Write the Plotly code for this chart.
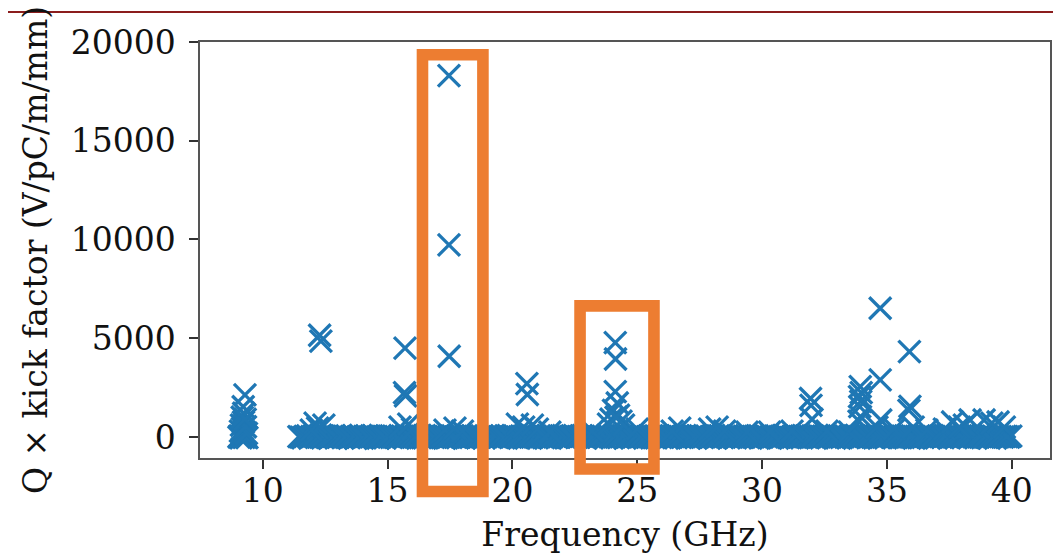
import plotly.graph_objects as go

# ---------------- data ----------------
# low-frequency cluster near 9 GHz
cluster_freq = [9.05, 9.09, 9.13, 9.17, 9.21, 9.25, 9.29, 9.33, 9.37, 9.11,
                9.19, 9.27, 9.35, 9.15, 9.23, 9.31]
cluster_kick = [0, 60, -40, 30, 90, -20, 50, 10, -30, 300,
                420, 250, 180, 600, 750, 520]

# dense band of modes with small kick factors
band_freq = [11.45, 11.61, 11.80, 11.96, 12.15, 12.32, 12.49, 12.68, 12.84, 13.03,
             13.21, 13.38, 13.57, 13.73, 13.92, 14.09, 14.27, 14.46, 14.62, 14.81,
             14.97, 15.16, 15.34, 15.50, 15.69, 15.87, 16.03, 16.22, 16.40, 16.56,
             16.75, 16.93, 17.09, 17.28, 17.46, 17.62, 17.81, 17.99, 18.15, 18.34,
             18.52, 18.68, 18.87, 19.05, 19.21, 19.40, 19.58, 19.74, 19.93, 20.11,
             20.27, 20.46, 20.64, 20.80, 20.99, 21.17, 21.33, 21.52, 21.70, 21.86,
             22.05, 22.23, 22.39, 22.58, 22.76, 22.92, 23.11, 23.29, 23.45, 23.64,
             23.82, 23.98, 24.17, 24.35, 24.51, 24.70, 24.88, 25.04, 25.23, 25.41,
             25.57, 25.76, 25.94, 26.10, 26.29, 26.47, 26.63, 26.82, 27.00, 27.16,
             27.35, 27.53, 27.69, 27.88, 28.06, 28.22, 28.41, 28.59, 28.75, 28.94,
             29.12, 29.28, 29.47, 29.65, 29.81, 30.00, 30.18, 30.34, 30.53, 30.71,
             30.87, 31.06, 31.24, 31.40, 31.59, 31.77, 31.93, 32.12, 32.30, 32.46,
             32.65, 32.83, 32.99, 33.18, 33.36, 33.52, 33.71, 33.89, 34.05, 34.24,
             34.42, 34.58, 34.77, 34.95, 35.11, 35.30, 35.48, 35.64, 35.83, 36.01,
             36.17, 36.36, 36.54, 36.70, 36.89, 37.07, 37.23, 37.42, 37.60, 37.76,
             37.95, 38.13, 38.29, 38.48, 38.66, 38.82, 39.01, 39.19, 39.35, 39.54,
             39.72, 39.88, 39.96]
band_kick = [20, -40, 60, 10, -20, 90, 30, -60, 40, 0,
             -30, 50, 10, -70, 80, 20, -10, 40, -50, 30,
             60, -20, 10, 70, -40, 30, 0, 50, -30, 20,
             40, -10, 80, -50, 20, 60, -30, 10, 50, -20,
             30, 0, -40, 70, 10, -20, 40, 60, -10, 20,
             -50, 30, 80, 0, -30, 50, 20, -60, 40, 10,
             70, -20, 30, 0, 60, -40, 20, 50, -10, 30,
             80, -30, 40, 10, -50, 60, 20, -20, 30, 0,
             50, -40, 10, 70, -20, 30, 60, -10, 40, 0,
             -30, 50, 20, -60, 80, 10, -20, 40, 30, -40,
             60, 0, -30, 20, 50, -10, 40, -50, 30, 10,
             70, -20, 0, 40, -40, 60, 20, -10, 50, 30,
             -30, 10, 80, -20, 40, 0, 60, -50, 20, 30,
             -10, 50, 10, -40, 70, 20, -30, 40, 0, 60,
             -20, 30, 50, -60, 10, 40, -10, 20, 70, -30,
             0, 60, -40, 30, 10, 50, -20, 40, -50, 20,
             30, -10, 40]

# further band modes lying between the ones above
band2_freq = [11.53, 11.70, 11.88, 12.05, 12.23, 12.41, 12.58, 12.76, 12.93, 13.12,
              13.29, 13.47, 13.65, 13.82, 14.00, 14.18, 14.36, 14.54, 14.71, 14.89,
              15.06, 15.25, 15.42, 15.60, 15.78, 15.95, 16.12, 16.31, 16.48, 16.66,
              16.84, 17.01, 17.19, 17.37, 17.54, 17.72, 17.90, 18.07, 18.25, 18.43,
              18.60, 18.78, 18.96, 19.13, 19.31, 19.49, 19.66, 19.84, 20.02, 20.19,
              20.37, 20.55, 20.72, 20.90, 21.08, 21.25, 21.43, 21.61, 21.78, 21.96,
              22.14, 22.31, 22.49, 22.67, 22.84, 23.02, 23.20, 23.37, 23.55, 23.73,
              23.90, 24.08, 24.26, 24.43, 24.61, 24.79, 24.96, 25.14, 25.32, 25.49,
              25.67, 25.85, 26.02, 26.20, 26.38, 26.55, 26.73, 26.91, 27.08, 27.26,
              27.44, 27.61, 27.79, 27.97, 28.14, 28.32, 28.50, 28.67, 28.85, 29.03,
              29.20, 29.38, 29.56, 29.73, 29.91, 30.09, 30.26, 30.44, 30.62, 30.79,
              30.97, 31.15, 31.32, 31.50, 31.68, 31.85, 32.03, 32.21, 32.38, 32.56,
              32.74, 32.91, 33.09, 33.27, 33.44, 33.62, 33.80, 33.97, 34.15, 34.33,
              34.50, 34.68, 34.86, 35.03, 35.21, 35.39, 35.56, 35.74, 35.92, 36.09,
              36.27, 36.45, 36.62, 36.80, 36.98, 37.15, 37.33, 37.51, 37.68, 37.86,
              38.04, 38.21, 38.39, 38.57, 38.74, 38.92, 39.10, 39.27, 39.45, 39.63,
              39.80]
band2_kick = [-10, 30, -50, 40, 0, 60, -20, 20, -40, 50,
              10, -30, 70, 0, -60, 30, 50, -20, 10, -40,
              40, 0, -50, 30, 60, -10, 20, -30, 70, 0,
              -20, 50, 10, -40, 30, -10, 60, -50, 0, 40,
              -30, 60, 20, -20, 50, 0, -40, 30, 70, -10,
              20, -50, 40, 10, 60, -30, 0, 50, -20, 30,
              -40, 10, 70, -10, 20, 50, -30, 0, 60, -50,
              30, 10, -20, 70, 0, -40, 50, 30, -10, 20,
              -30, 60, 0, -50, 40, 10, -20, 70, -40, 30,
              50, -10, 20, 0, -60, 40, 30, -30, 10, 60,
              -20, 50, 0, 30, -40, 70, -10, 20, -50, 40,
              10, -30, 60, 0, 30, -20, 50, -40, 20, -10,
              40, -50, 10, 60, -30, 30, 0, -20, 50, 70,
              -40, 20, 0, 60, -10, 30, -30, 50, 10, -50,
              40, -20, 70, 0, -40, 30, 60, -10, 20, 50,
              -30, 10, 40, -20, 60, 0, -50, 30, 10, -10,
              20]

# modes standing out of the band
peak_freq = [9.22, 9.29, 9.24, 9.18, 9.30,
             12.28, 12.33, 12.10, 12.45, 12.20, 11.95,
             15.70, 15.68, 15.72, 15.50, 15.85, 16.00,
             17.46, 17.46, 17.47, 17.30, 17.70, 18.00,
             20.58, 20.60, 20.20, 20.45, 20.80, 21.00, 21.50,
             24.12, 24.13, 24.12, 24.20, 24.05, 24.25, 23.95, 24.35, 23.85, 24.45, 24.15, 23.20, 25.00,
             26.70, 26.40, 27.90, 28.20, 28.50, 29.40, 30.30, 31.20,
             31.94, 31.96, 32.00, 32.60, 33.50,
             33.93, 33.97, 33.90, 33.95, 33.91, 33.94, 33.88,
             34.73, 34.73, 34.75, 34.60, 35.30,
             35.90, 35.92, 35.88, 36.05, 36.60, 37.30,
             37.63, 38.33, 38.89, 39.45, 38.10, 39.20, 39.70, 37.90]
peak_kick = [1530, 2130, 1200, 1000, 900,
             5150, 4850, 700, 600, 450, 350,
             4500, 2250, 2080, 500, 650, 400,
             18300, 9730, 4090, 350, 450, 300,
             2700, 2150, 650, 500, 600, 400, 250,
             4780, 3950, 2300, 1720, 1350, 1100, 900, 800, 650, 600, 1000, 300, 400,
             450, 300, 400, 500, 300, 250, 250, 300,
             1950, 1600, 900, 300, 250,
             2550, 2250, 2040, 1800, 1535, 1030, 800,
             6520, 2890, 860, 500, 400,
             4320, 1550, 1350, 500, 350, 400,
             760, 860, 860, 760, 600, 700, 500, 500]

x_ticks = [10, 15, 20, 25, 30, 35, 40]
y_ticks = [0, 5000, 10000, 15000, 20000]
y_tick_labels = ["0", "5000", "10000", "15000", "20000"]
x_range = [7.49, 41.53]
y_range = [-1064, 20000]

# highlight boxes (data units: GHz, V/pC/m/mm)
boxes = [
    dict(f0=16.40, f1=18.82, k0=-2762, k1=19356),
    dict(f0=22.71, f1=25.67, k0=-1621, k1=6638),
]

freq = cluster_freq + band_freq + band2_freq + peak_freq
kick = cluster_kick + band_kick + band2_kick + peak_kick

FONT = "DejaVu Serif"
FS = 33
BLUE = "#1f77b4"
ORANGE = "#ED7D31"

# page body has an 8 px margin; the figure is sized so the plot area
# lands at the same window pixels as the reference
W, H = 1053, 549
ML, MR, MT, MB = 192, 11, 34, 99
PW = W - ML - MR
PH = H - MT - MB

fig = go.Figure(go.Scatter(
    x=freq, y=kick, mode="markers",
    marker=dict(symbol="x-thin", size=22, color=BLUE,
                line=dict(width=3.3, color=BLUE)),
    hoverinfo="x+y",
))


def px(v):
    return (v - x_range[0]) / (x_range[1] - x_range[0])


def py(v):
    return (v - y_range[0]) / (y_range[1] - y_range[0])


shapes = []
for b in boxes:
    shapes.append(dict(type="rect", xref="paper", yref="paper",
                       x0=px(b["f0"]), x1=px(b["f1"]),
                       y0=py(b["k0"]), y1=py(b["k1"]),
                       line=dict(color=ORANGE, width=11.6),
                       fillcolor="rgba(0,0,0,0)", layer="above"))
# thin dark-red rule across the top of the page
rule_y = (PH + MT - 4) / PH
shapes.append(dict(type="line", xref="paper", yref="paper",
                   x0=-ML / PW, x1=(W - ML) / PW,
                   y0=rule_y, y1=rule_y,
                   line=dict(color="#8b1d1d", width=2), layer="above"))

fig.update_layout(
    width=W, height=H,
    margin=dict(l=ML, r=MR, t=MT, b=MB, autoexpand=False),
    paper_bgcolor="white", plot_bgcolor="white",
    font=dict(family=FONT, size=FS, color="#111"),
    showlegend=False,
    shapes=shapes,
    xaxis=dict(range=x_range, tickvals=x_ticks, ticks="outside", ticklen=9,
               tickwidth=1.5, tickcolor="#333", showline=True, linecolor="#555",
               linewidth=1.5, mirror=True, showgrid=False, zeroline=False,
               automargin=False, ticklabelstandoff=-6,
               title=dict(text="Frequency (GHz)", standoff=14,
                          font=dict(family=FONT, size=FS))),
    yaxis=dict(range=y_range, tickvals=y_ticks, ticktext=y_tick_labels,
               ticks="outside", ticklen=9,
               tickwidth=1.5, tickcolor="#333", showline=True, linecolor="#555",
               linewidth=1.5, mirror=True, showgrid=False, zeroline=False,
               ticklabelstandoff=7, automargin=False,
               title=dict(text="Q × kick factor (V/pC/m/mm)", standoff=13,
                          font=dict(family=FONT, size=FS))),
)

fig.write_html("out.html")
